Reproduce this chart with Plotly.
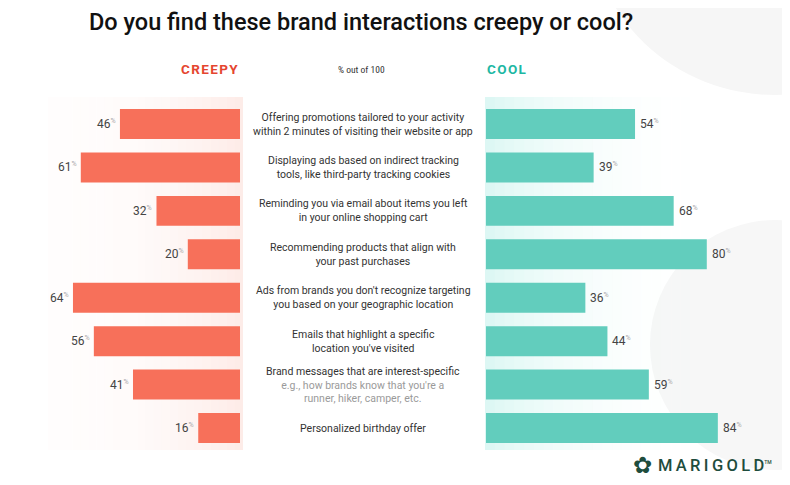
import plotly.graph_objects as go

# ---- data ----
categories = [
    "Offering promotions tailored to your activity<br>within 2 minutes of visiting their website or app",
    "Displaying ads based on indirect tracking<br>tools, like third-party tracking cookies",
    "Reminding you via email about items you left<br>in your online shopping cart",
    "Recommending products that align with<br>your past purchases",
    "Ads from brands you don't recognize targeting<br>you based on your geographic location",
    "Emails that highlight a specific<br>location you've visited",
    "Brand messages that are interest-specific<br><span style='color:#9a9a9a'>e.g., how brands know that you're a<br>runner, hiker, camper, etc.</span>",
    "Personalized birthday offer",
]
creepy = [46, 61, 32, 20, 64, 56, 41, 16]
cool = [54, 39, 68, 80, 36, 44, 59, 84]

# page offset (browser body margin) compensation
OFF = 8
PAGE_W, PAGE_H = 790, 485
W, H = PAGE_W - OFF, PAGE_H - OFF
CREEPY_COLOR = "#F7705A"
COOL_COLOR = "#62CDBD"

rows = list(range(len(categories)))

fig = go.Figure()

fig.add_trace(go.Bar(
    y=rows, x=creepy, orientation="h", xaxis="x", yaxis="y",
    marker=dict(color=CREEPY_COLOR, line=dict(width=0)), width=0.69,
    hoverinfo="skip", showlegend=False,
))
fig.add_trace(go.Bar(
    y=rows, x=cool, orientation="h", xaxis="x2", yaxis="y",
    marker=dict(color=COOL_COLOR, line=dict(width=0)), width=0.69,
    hoverinfo="skip", showlegend=False,
))

def px(x):
    return (x - OFF) / W

def py(y):
    return 1 - (y - OFF) / H

shapes = []
# faint grey background blobs
shapes.append(dict(type="circle", xref="paper", yref="paper", layer="below",
                   x0=px(590), x1=px(960), y0=py(95), y1=py(-260),
                   fillcolor="#F6F6F6", line=dict(width=0)))
shapes.append(dict(type="circle", xref="paper", yref="paper", layer="below",
                   x0=px(650), x1=px(900), y0=py(470), y1=py(220),
                   fillcolor="#F7F7F7", line=dict(width=0)))
# pink gradient panel behind creepy bars
n = 24
for i in range(n):
    x0 = 48 + (243 - 48) * i / n
    x1 = 48 + (243 - 48) * (i + 1) / n
    a = 0.02 + 0.18 * (i / (n - 1)) ** 2.2
    shapes.append(dict(type="rect", xref="paper", yref="paper", layer="below",
                       x0=px(x0), x1=px(x1), y0=py(450), y1=py(97),
                       fillcolor=f"rgba(247,160,140,{a:.3f})", line=dict(width=0)))
# teal gradient panel behind cool bars
for i in range(n):
    x0 = 485 + (720 - 485) * i / n
    x1 = 485 + (720 - 485) * (i + 1) / n
    a = 0.25 * (1 - i / n) ** 2.5
    shapes.append(dict(type="rect", xref="paper", yref="paper", layer="below",
                       x0=px(x0), x1=px(x1), y0=py(450), y1=py(97),
                       fillcolor=f"rgba(120,225,210,{a:.3f})", line=dict(width=0)))

annotations = []
# title
annotations.append(dict(text="Do you find these brand interactions creepy or cool?",
                        xref="paper", yref="paper", x=px(87), y=py(22),
                        xanchor="left", yanchor="middle", showarrow=False,
                        font=dict(family="Roboto", size=23.5, color="#111111", weight=500)))
annotations.append(dict(text="\u200a".join("CREEPY"), xref="paper", yref="paper",
                        x=px(209), y=py(69), xanchor="center", yanchor="middle", showarrow=False,
                        font=dict(family="Roboto", size=13.5, color="#E5452F", weight="bold")))
annotations.append(dict(text="\u200a".join("COOL"), xref="paper", yref="paper",
                        x=px(507), y=py(69), xanchor="center", yanchor="middle", showarrow=False,
                        font=dict(family="Roboto", size=13.5, color="#1DB7A3", weight="bold")))
annotations.append(dict(text="% out of 100", xref="paper", yref="paper",
                        x=px(361), y=py(69), xanchor="center", yanchor="middle", showarrow=False,
                        font=dict(family="Roboto Condensed, Roboto", size=9.5, color="#333333")))

# middle labels
for i, c in enumerate(categories):
    annotations.append(dict(text=c, xref="paper", yref="y", x=px(363), y=i,
                            xanchor="center", yanchor="middle", showarrow=False, align="center",
                            font=dict(family="Roboto", size=10.5, color="#333333")))

pct = "<sup><span style='font-size:7px;color:#aaaaaa'>%</span></sup>"
for i, v in enumerate(creepy):
    annotations.append(dict(text=f"{v}{pct}", xref="x", yref="y", x=v, y=i,
                            xanchor="right", yanchor="middle", showarrow=False, xshift=-2,
                            font=dict(family="Roboto", size=12, color="#444444")))
for i, v in enumerate(cool):
    annotations.append(dict(text=f"{v}{pct}", xref="x2", yref="y", x=v, y=i,
                            xanchor="left", yanchor="middle", showarrow=False, xshift=3,
                            font=dict(family="Roboto", size=12, color="#444444")))

# logo
annotations.append(dict(text="\u273F", xref="paper", yref="paper", x=px(642), y=py(465),
                        xanchor="center", yanchor="middle", showarrow=False,
                        font=dict(family="DejaVu Sans", size=23, color="#1F4D3D")))
annotations.append(dict(text="\u2009".join("MARIGOLD") + "<sup><span style='font-size:5px'>TM</span></sup>",
                        xref="paper", yref="paper", x=px(656), y=py(465),
                        xanchor="left", yanchor="middle", showarrow=False,
                        font=dict(family="Roboto", size=16.5, color="#1F4D3D", weight=500)))

# y mapping: row 0 centre at 124px page, row spacing 43.43px
row0, step = 124, 43.43
nrow = len(categories)
y_top = -(row0 - OFF) / step
y_bot = (nrow - 1) + (PAGE_H - (row0 + step * (nrow - 1))) / step

fig.update_layout(
    width=W, height=H,
    margin=dict(l=0, r=0, t=0, b=0),
    paper_bgcolor="white", plot_bgcolor="rgba(0,0,0,0)",
    barmode="overlay",
    xaxis=dict(domain=[0, px(240)], range=[(240 - OFF) / 2.61, 0], visible=False, fixedrange=True),
    xaxis2=dict(domain=[px(486), 1], range=[0, (PAGE_W - 486) / 2.76], visible=False, fixedrange=True,
                anchor="y"),
    yaxis=dict(range=[y_bot, y_top], visible=False, fixedrange=True),
    shapes=shapes, annotations=annotations,
)

fig.write_html("out.html")
